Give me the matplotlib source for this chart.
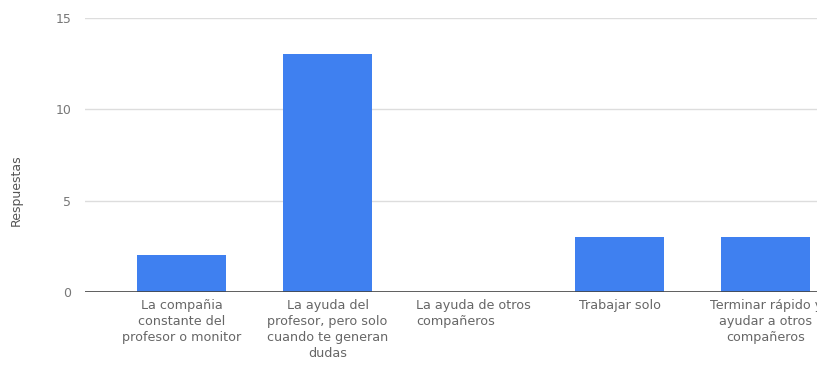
import matplotlib.pyplot as plt

categorias = [
	"La compañia\nconstante del\nprofesor o monitor",
	"La ayuda del\nprofesor, pero solo\ncuando te generan\ndudas",
	"La ayuda de otros\ncompañeros",
	"Trabajar solo",
	"Terminar rápido y\nayudar a otros\ncompañeros",
]
respuestas = [2, 13, 0, 3, 3]
y_ticks = [0, 5, 10, 15]

fig = plt.figure(figsize=(8.17, 3.65), dpi=100)
ax = fig.add_axes([0.104, 0.2, 0.896, 0.751])

posiciones = range(len(categorias))
ax.bar(posiciones, respuestas, width=0.61, color="#3f80f0", zorder=3)

ax.set_ylim(0, 15)
ax.set_xlim(-0.66, 4.35)
ax.set_yticks(y_ticks)
ax.set_yticklabels([str(t) for t in y_ticks], color="#777777", fontsize=9)
ax.yaxis.grid(True, color="#dddddd", linewidth=1, zorder=0)
ax.axhline(0, color="#444444", linewidth=1.2, zorder=4)
ax.tick_params(axis="both", length=0, pad=10)

ax.set_xticks(list(posiciones))
ax.set_xticklabels(categorias, color="#666666", fontsize=9.2, linespacing=1.3)
ax.tick_params(axis="x", pad=5)
for i, etiqueta in enumerate(ax.get_xticklabels()):
	etiqueta.set_clip_on(False)
	if i == 2:
		etiqueta.set_multialignment("left")

ax.set_ylabel("Respuestas", color="#555555", fontsize=9)
ax.yaxis.set_label_coords(-0.085, 0.37)

for lado in ax.spines.values():
	lado.set_visible(False)

fig.savefig("out.png", dpi=100)
